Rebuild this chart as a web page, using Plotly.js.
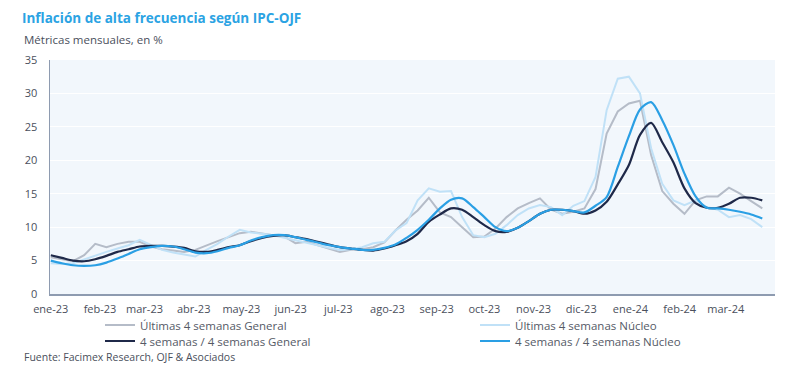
<!DOCTYPE html>
<html>
<head>
<meta charset="utf-8">
<script src="https://cdn.plot.ly/plotly-3.0.1.min.js"></script>
<style>
  html, body { margin: 0; padding: 0; background: #ffffff; }
  #chart { width: 800px; height: 380px; }
</style>
</head>
<body>
<div id="chart"></div>
<script>
// Weekly observations, starting 2023-01-01
const startDate = '2023-01-01';
const nWeeks = 65;

const ultimasGeneral = [
  5.5, 5.2, 4.9, 5.8, 7.5, 7.0, 7.5, 7.8, 7.8, 7.1,
  6.7, 6.5, 6.3, 6.6, 7.3, 7.9, 8.5, 9.1, 9.3, 9.0,
  8.8, 8.6, 7.6, 7.8, 7.3, 6.8, 6.3, 6.6, 6.7, 7.0,
  7.7, 9.5, 11.1, 12.5, 14.4, 12.2, 11.5, 10.0, 8.5, 8.6,
  9.8, 11.5, 12.8, 13.6, 14.3, 12.6, 12.0, 12.3, 12.8, 15.7,
  24.0, 27.3, 28.5, 28.9, 20.8, 15.4, 13.5, 12.0, 14.0, 14.6,
  14.6, 15.9, 15.0, 13.9, 12.8
];

const ultimasNucleo = [
  4.6, 4.5, 4.6, 5.2, 5.8, 6.3, 6.8, 7.3, 8.1, 7.4,
  6.6, 6.2, 5.9, 5.6, 6.6, 7.5, 8.6, 9.6, 9.2, 9.0,
  8.8, 8.4, 8.0, 7.6, 7.2, 6.9, 6.6, 6.7, 7.0, 7.6,
  7.8, 9.5, 10.6, 14.0, 15.8, 15.3, 15.4, 11.5, 8.8, 8.5,
  9.0, 10.3, 11.8, 12.8, 13.3, 13.0, 11.8, 13.2, 13.9, 17.5,
  27.5, 32.2, 32.5, 30.0, 21.8, 16.5, 14.0, 13.3, 14.0, 13.0,
  12.6, 11.5, 11.8, 11.2, 10.0
];

const cuatroGeneral = [
  5.8, 5.4, 5.0, 4.9, 5.2, 5.7, 6.3, 6.7, 7.1, 7.2,
  7.2, 7.1, 6.9, 6.4, 6.3, 6.6, 7.0, 7.3, 7.9, 8.4,
  8.7, 8.8, 8.5, 8.2, 7.8, 7.4, 7.0, 6.8, 6.6, 6.5,
  6.8, 7.3, 7.9, 9.0, 10.8, 11.9, 12.8, 12.6, 11.5, 10.3,
  9.4, 9.3, 9.9, 10.9, 12.0, 12.6, 12.6, 12.4, 12.0, 12.5,
  13.8, 16.4, 19.3, 23.8, 25.6, 22.7, 19.7, 15.8, 13.6, 12.9,
  12.9, 13.5, 14.4, 14.4, 14.0
];

const cuatroNucleo = [
  5.0, 4.6, 4.3, 4.2, 4.3, 4.7, 5.3, 6.0, 6.7, 7.0,
  7.2, 7.1, 6.7, 6.2, 6.1, 6.4, 6.9, 7.3, 8.0, 8.5,
  8.8, 8.8, 8.5, 8.1, 7.7, 7.3, 7.0, 6.8, 6.6, 6.6,
  6.9, 7.4, 8.4, 9.6, 11.1, 12.8, 14.1, 14.3, 13.0, 11.5,
  10.0, 9.4, 9.9, 10.9, 12.0, 12.6, 12.6, 12.4, 12.2, 13.2,
  14.5, 19.0, 23.6, 27.6, 28.7, 26.0, 22.3, 18.0, 14.6, 12.9,
  12.8, 12.6, 12.3, 11.9, 11.3
];

const tickDates = [
  '2023-01-01','2023-02-01','2023-03-01','2023-04-01','2023-05-01',
  '2023-06-01','2023-07-01','2023-08-01','2023-09-01','2023-10-01',
  '2023-11-01','2023-12-01','2024-01-01','2024-02-01','2024-03-01'
];
const tickLabels = [
  'ene-23','feb-23','mar-23','abr-23','may-23','jun-23','jul-23','ago-23',
  'sep-23','oct-23','nov-23','dic-23','ene-24','feb-24','mar-24'
];

const seriesNames = [
  'Últimas 4 semanas General',
  'Últimas 4 semanas Núcleo',
  '4 semanas / 4 semanas General',
  '4 semanas / 4 semanas Núcleo'
];

// build weekly dates
const dates = [];
(function () {
  const d0 = new Date(startDate + 'T00:00:00Z');
  for (let i = 0; i < nWeeks; i++) {
    const d = new Date(d0.getTime() + i * 7 * 86400000);
    dates.push(d.toISOString().slice(0, 10));
  }
})();

const FONT = 'Open Sans, Lato, sans-serif';

const traces = [
  { x: dates, y: ultimasGeneral, name: seriesNames[0], type: 'scatter', mode: 'lines',
    line: { color: '#b5bcc8', width: 2 }, legend: 'legend' },
  { x: dates, y: ultimasNucleo, name: seriesNames[1], type: 'scatter', mode: 'lines',
    line: { color: '#c0e1f7', width: 2 }, legend: 'legend2' },
  { x: dates, y: cuatroGeneral, name: seriesNames[2], type: 'scatter', mode: 'lines',
    line: { color: '#1f2949', width: 2.2, shape: 'spline', smoothing: 0.8 }, legend: 'legend3' },
  { x: dates, y: cuatroNucleo, name: seriesNames[3], type: 'scatter', mode: 'lines',
    line: { color: '#2a9fe4', width: 2.2, shape: 'spline', smoothing: 0.8 }, legend: 'legend4' }
];

const legendBase = {
  xref: 'container', yref: 'container', xanchor: 'left', yanchor: 'middle',
  orientation: 'h', bgcolor: 'rgba(0,0,0,0)', borderwidth: 0,
  font: { family: FONT, size: 11.5, color: '#555a66' }, itemwidth: 30
};

const layout = {
  width: 800, height: 380,
  paper_bgcolor: '#ffffff',
  plot_bgcolor: '#f2f7fc',
  margin: { l: 50, r: 25, t: 60, b: 86 },
  font: { family: FONT, color: '#4a4f5c' },
  title: {
    text: '<b>Inflación de alta frecuencia según IPC-OJF</b>',
    font: { family: FONT, size: 13.5, color: '#2ba3e3' },
    x: 22 / 800, xref: 'container', xanchor: 'left',
    y: 1 - 18 / 380, yref: 'container', yanchor: 'middle'
  },
  xaxis: {
    type: 'date',
    range: ['2022-12-31 12:00', '2024-04-01'],
    tickmode: 'array', tickvals: tickDates, ticktext: tickLabels,
    showgrid: false, zeroline: false,
    showline: true, linecolor: '#8e9bb0', linewidth: 1.5,
    ticks: '', ticklabelstandoff: 4,
    tickfont: { family: FONT, size: 11, color: '#4a4f5c' }
  },
  yaxis: {
    range: [0, 35], tickmode: 'array', tickvals: [0, 5, 10, 15, 20, 25, 30, 35],
    showgrid: true, gridcolor: '#ffffff', gridwidth: 1,
    zeroline: false, showline: true, linecolor: '#8e9bb0', linewidth: 1.5,
    ticks: '', ticklabelstandoff: 9,
    tickfont: { family: FONT, size: 11, color: '#4a4f5c' }
  },
  showlegend: true,
  legend: Object.assign({}, legendBase, { x: 100 / 800, y: 55 / 380 }),
  legend2: Object.assign({}, legendBase, { x: 475 / 800, y: 55 / 380 }),
  legend3: Object.assign({}, legendBase, { x: 100 / 800, y: 39 / 380 }),
  legend4: Object.assign({}, legendBase, { x: 475 / 800, y: 39 / 380 }),
  annotations: [
    { text: 'Métricas mensuales, en %', xref: 'paper', yref: 'paper',
      x: (22 - 50) / 725, y: 1 + (60 - 39) / 234, xanchor: 'left', yanchor: 'middle',
      showarrow: false, font: { family: FONT, size: 11.5, color: '#4a4f5c' } },
    { text: 'Fuente: Facimex Research, OJF & Asociados', xref: 'paper', yref: 'paper',
      x: (22 - 50) / 725, y: -(357 - 294) / 234, xanchor: 'left', yanchor: 'middle',
      showarrow: false, font: { family: FONT, size: 10.5, color: '#4a4f5c' } }
  ]
};

Plotly.newPlot('chart', traces, layout, { displayModeBar: false, staticPlot: true });
</script>
</body>
</html>
